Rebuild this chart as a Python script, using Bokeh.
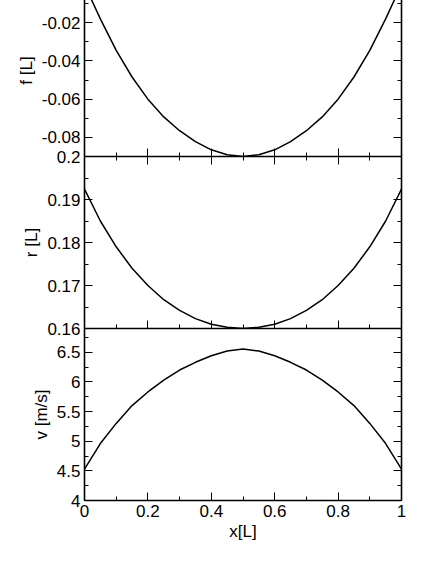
from bokeh.plotting import figure
from bokeh.models import (LinearAxis, FixedTicker, CustomJSTickFormatter,
                          Range1d, ColumnDataSource)
from bokeh.layouts import column
from bokeh.embed import file_html
from bokeh.resources import INLINE

# ---- data ----
x_vals = [0.0, 0.05, 0.1, 0.15, 0.2, 0.25, 0.3, 0.35, 0.4, 0.45, 0.5,
          0.55, 0.6, 0.65, 0.7, 0.75, 0.8, 0.85, 0.9, 0.95, 1.0]
f_vals = [0.0, -0.018, -0.0345, -0.0484, -0.06, -0.0693, -0.0765, -0.0822, -0.0865, -0.0891, -0.09,
          -0.0891, -0.0865, -0.0822, -0.0765, -0.0693, -0.06, -0.0484, -0.0345, -0.018, 0.0]
r_vals = [0.1924, 0.185, 0.179, 0.174, 0.17, 0.1667, 0.1642, 0.1623, 0.161, 0.1603, 0.16,
          0.1603, 0.161, 0.1623, 0.1642, 0.1667, 0.17, 0.174, 0.179, 0.185, 0.1924]
v_vals = [4.53, 4.96, 5.30, 5.60, 5.83, 6.03, 6.20, 6.33, 6.44, 6.52, 6.555,
          6.52, 6.44, 6.33, 6.20, 6.03, 5.83, 5.60, 5.30, 4.96, 4.53]

f_range = (-0.09, 0.0)
r_range = (0.16, 0.2)
v_range = (4.0, 6.9)
x_range = (0.0, 1.0)

f_ticks = [-0.08, -0.06, -0.04, -0.02]
f_minor = [-0.09, -0.07, -0.05, -0.03, -0.01]
r_ticks = [0.16, 0.17, 0.18, 0.19, 0.2]
r_minor = [0.165, 0.175, 0.185, 0.195]
v_ticks = [4.0, 4.5, 5.0, 5.5, 6.0, 6.5]
v_minor = [4.25, 4.75, 5.25, 5.75, 6.25, 6.75]
x_ticks = [0.0, 0.2, 0.4, 0.6, 0.8, 1.0]
x_minor = [0.1, 0.3, 0.5, 0.7, 0.9]

f_label = "f [L]"
r_label = "r [L]"
v_label = "v [m/s]"
x_label = "x[L]"

FONT = "Liberation Sans"
FS = "17px"

fmt_code = "return String(Math.round(tick*10000)/10000);"


def style_axis(ax, labels, label_standoff=3, tick_out=False):
    ax.major_tick_in = 8
    ax.major_tick_out = 8 if tick_out else 0
    ax.minor_tick_in = 4
    ax.minor_tick_out = 4 if tick_out else 0
    ax.major_tick_line_color = "black"
    ax.minor_tick_line_color = "black"
    ax.major_tick_line_width = 1
    ax.minor_tick_line_width = 1
    ax.axis_line_color = "black"
    ax.axis_line_width = 1.6
    if labels:
        ax.major_label_text_font = FONT
        ax.major_label_text_font_size = FS
        ax.major_label_text_color = "black"
        ax.major_label_standoff = 4
        ax.axis_label_text_font = FONT
        ax.axis_label_text_font_size = FS
        ax.axis_label_text_font_style = "normal"
        ax.axis_label_text_color = "black"
        ax.axis_label_standoff = label_standoff
        ax.formatter = CustomJSTickFormatter(code=fmt_code)
    else:
        ax.formatter = CustomJSTickFormatter(code="return '';")
        ax.major_label_text_font_size = "0px"
        ax.major_label_standoff = 0
        ax.axis_label = None


def panel(yvals, yrng, yt_major, yt_minor, ylabel, xlabels, bottom_out, border_top):
    p = figure(frame_width=317, frame_height=172,
               x_range=Range1d(*x_range), y_range=Range1d(*yrng),
               x_axis_location=None, y_axis_location=None,
               output_backend="svg", toolbar_location=None,
               min_border_left=77, min_border_right=12,
               min_border_top=border_top, min_border_bottom=12)
    p.xgrid.visible = False
    p.ygrid.visible = False
    p.outline_line_color = None
    p.background_fill_color = None
    p.border_fill_color = None

    xt = FixedTicker(ticks=x_ticks, minor_ticks=x_minor)
    yt = FixedTicker(ticks=yt_major, minor_ticks=yt_minor)

    left = LinearAxis(ticker=yt, axis_label=ylabel)
    style_axis(left, True)
    p.add_layout(left, "left")

    right = LinearAxis(ticker=yt)
    style_axis(right, False)
    p.add_layout(right, "right")

    bottom = LinearAxis(ticker=xt, axis_label=x_label if xlabels else None)
    style_axis(bottom, xlabels, label_standoff=2, tick_out=bottom_out)
    p.add_layout(bottom, "below")

    src = ColumnDataSource(dict(x=x_vals, y=yvals))
    p.line("x", "y", source=src, line_color="black", line_width=1.5)
    return p


p1 = panel(f_vals, f_range, f_ticks, f_minor, f_label, False, True, 0)
p2 = panel(r_vals, r_range, r_ticks, r_minor, r_label, False, False, 12)
p3 = panel(v_vals, v_range, v_ticks, v_minor, v_label, True, False, 12)
p2.margin = (-24, 0, 0, 0)
p3.margin = (-24, 0, 0, 0)

layout = column(p1, p2, p3, spacing=0, margin=(-16, 0, 0, 7))

open("out.html", "w").write(file_html(layout, INLINE))
